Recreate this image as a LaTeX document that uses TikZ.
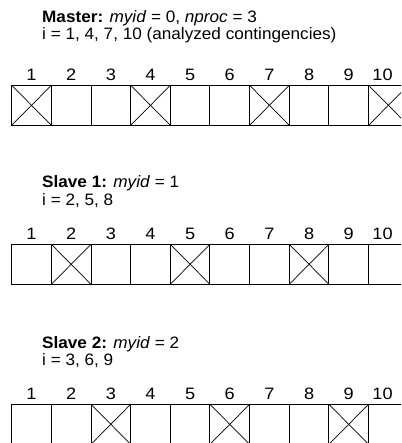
\documentclass[tikz,border=0pt]{standalone}
\usepackage{fontspec}
\setmainfont{Liberation Sans}
\newcommand{\wider}[1]{\scalebox{1.04}[1]{#1}}
\newcommand{\widernum}[1]{\scalebox{1.1}[1]{#1}}
\begin{document}
\begin{tikzpicture}[x=1pt,y=-1pt,
  cell/.style={draw, line width=1pt, minimum width=39.65pt, minimum height=40pt, inner sep=0pt, outer sep=0pt, anchor=north west},
  num/.style={font=\fontsize{16.5}{20}\selectfont, anchor=base, inner sep=0pt},
  lbl/.style={font=\fontsize{16.5}{20}\selectfont, anchor=base west, inner sep=0pt},
  cross/.style={line width=0.7pt}]
\useasboundingbox (0,0) rectangle (401,443);
\clip (0,0) rectangle (401,443);
% text
\node[lbl] (m1) at (42,22.3) {\wider{\textbf{Master:} \textit{myid} = 0, \textit{nproc} = 3}};
\node[lbl] (m2) at (42,39.5) {\wider{i = 1, 4, 7, 10 (analyzed contingencies)}};
\node[lbl] (s11) at (42,188) {\wider{\textbf{Slave 1:} \textit{myid} = 1}};
\node[lbl] (s12) at (42,205) {\wider{i = 2, 5, 8}};
\node[lbl] (s21) at (42,348) {\wider{\textbf{Slave 2:} \textit{myid} = 2}};
\node[lbl] (s22) at (42,365) {\wider{i = 3, 6, 9}};
% rows
\foreach \r/\top in {1/85.3, 2/244.3, 3/404.3} {
  \foreach \c in {1,...,10} {
    \node[cell] (r\r c\c) at ({11.7+(\c-1)*39.65},\top) {};
  }
  \foreach \c in {1,...,9} {
    \node[num] (n\r c\c) at ({11.7+(\c-0.5)*39.65},\top-5) {\widernum{\c}};
  }
  \node[num] (n\r c10) at (382.5,\top-5) {\widernum{10}};
}
\foreach \r/\cs in {1/{1,4,7,10}, 2/{2,5,8}, 3/{3,6,9}} {
  \foreach \c in \cs {
    \draw[cross] (r\r c\c.north west) -- (r\r c\c.south east);
    \draw[cross] (r\r c\c.north east) -- (r\r c\c.south west);
  }
}
\end{tikzpicture}
\end{document}
